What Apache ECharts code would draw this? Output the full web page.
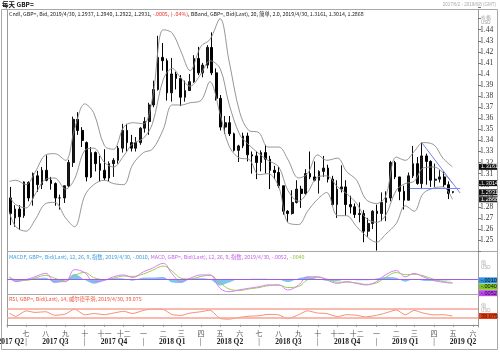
<!DOCTYPE html>
<html><head><meta charset="utf-8">
<script src="https://cdn.jsdelivr.net/npm/echarts/dist/echarts.min.js"></script>
<style>html,body{margin:0;padding:0;background:#fff}#c{width:500px;height:352px}</style>
</head><body><div id="c"></div>
<script>
// ---------- DATA ----------
const weekDates = ['2017-06-05','2017-06-12','2017-06-19','2017-06-26','2017-07-03','2017-07-10','2017-07-17','2017-07-24','2017-07-31','2017-08-07','2017-08-14','2017-08-21','2017-08-28','2017-09-04','2017-09-11','2017-09-18','2017-09-25','2017-10-02','2017-10-09','2017-10-16','2017-10-23','2017-10-30','2017-11-06','2017-11-13','2017-11-20','2017-11-27','2017-12-04','2017-12-11','2017-12-18','2017-12-25',
'2018-01-01','2018-01-08','2018-01-15','2018-01-22','2018-01-29','2018-02-05','2018-02-12','2018-02-19','2018-02-26','2018-03-05','2018-03-12','2018-03-19','2018-03-26','2018-04-02','2018-04-09','2018-04-16','2018-04-23','2018-04-30','2018-05-07','2018-05-14','2018-05-21','2018-05-28','2018-06-04','2018-06-11','2018-06-18','2018-06-25','2018-07-02','2018-07-09','2018-07-16','2018-07-23','2018-07-30','2018-08-06','2018-08-13','2018-08-20','2018-08-27','2018-09-03','2018-09-10','2018-09-17','2018-09-24','2018-10-01','2018-10-08','2018-10-15','2018-10-22','2018-10-29','2018-11-05','2018-11-12','2018-11-19','2018-11-26','2018-12-03','2018-12-10','2018-12-17','2018-12-24','2018-12-31',
'2019-01-07','2019-01-14','2019-01-21','2019-01-28','2019-02-04','2019-02-11','2019-02-18','2019-02-25','2019-03-04','2019-03-11','2019-03-18','2019-03-25','2019-04-01','2019-04-08','2019-04-15','2019-04-22','2019-04-29'];
const openPx = [1.2880,1.2700,1.2780,1.2720,1.3020,1.2880,1.3080,1.3000,1.3130,1.3040,1.3010,1.2880,1.2880,1.2990,1.3200,1.3590,1.3490,1.3380,1.3070,1.3290,1.3190,1.3130,1.3060,1.3190,1.3220,1.3330,1.3490,1.3380,1.3330,1.3380,
1.3510,1.3570,1.3720,1.3860,1.4150,1.4120,1.3830,1.4000,1.3960,1.3790,1.3850,1.3930,1.4140,1.4010,1.4080,1.4240,1.4010,1.3780,1.3520,1.3560,1.3460,1.3310,1.3350,1.3440,1.3270,1.3260,1.3200,1.3290,1.3230,1.3130,1.3110,1.2990,1.2760,1.2740,1.2840,1.2960,1.2920,1.3100,1.3070,1.3040,1.3120,1.3150,1.3050,1.2820,1.2960,1.2980,1.2820,1.2800,1.2730,1.2740,1.2580,1.2650,1.2760,
1.2740,1.2840,1.2880,1.3200,1.3070,1.2940,1.2860,1.3080,1.3190,1.3010,1.3260,1.3210,1.3040,1.3050,1.3070,1.3000,1.2937];
const closePx = [1.2740,1.2780,1.2710,1.3025,1.2880,1.3100,1.3000,1.3130,1.3040,1.3010,1.2880,1.2880,1.2990,1.3200,1.3590,1.3490,1.3400,1.3070,1.3290,1.3190,1.3130,1.3060,1.3190,1.3220,1.3330,1.3490,1.3380,1.3330,1.3380,1.3510,
1.3570,1.3720,1.3860,1.4150,1.4120,1.3830,1.4000,1.3960,1.3790,1.3850,1.3930,1.4140,1.4010,1.4080,1.4240,1.4010,1.3780,1.3520,1.3560,1.3460,1.3310,1.3350,1.3440,1.3270,1.3260,1.3200,1.3290,1.3230,1.3130,1.3110,1.2990,1.2760,1.2740,1.2840,1.2960,1.2920,1.3100,1.3070,1.3040,1.3120,1.3150,1.3050,1.2820,1.2960,1.2980,1.2820,1.2800,1.2730,1.2740,1.2580,1.2650,1.2760,1.2740,
1.2840,1.2880,1.3200,1.3070,1.2940,1.2860,1.3080,1.3190,1.3010,1.3260,1.3210,1.3040,1.3050,1.3070,1.3000,1.2920,1.2931];
const lowPx = [1.2635,1.2620,1.2590,1.2700,1.2850,1.2810,1.2935,1.2960,1.3030,1.2955,1.2810,1.2775,1.2835,1.2980,1.3160,1.3450,1.3340,1.3030,1.3060,1.3120,1.3030,1.3040,1.3030,1.3070,1.3190,1.3290,1.3300,1.3300,1.3300,1.3360,
1.3470,1.3450,1.3700,1.3850,1.4030,1.3760,1.3750,1.3860,1.3710,1.3750,1.3850,1.3920,1.3990,1.3970,1.4050,1.3990,1.3760,1.3490,1.3460,1.3440,1.3300,1.3205,1.3330,1.3210,1.3100,1.3050,1.3120,1.3100,1.2960,1.3050,1.2970,1.2730,1.2660,1.2730,1.2830,1.2790,1.2910,1.3050,1.3030,1.2920,1.3070,1.3020,1.2810,1.2700,1.2930,1.2720,1.2740,1.2700,1.2660,1.2480,1.2530,1.2600,1.2405,
1.2670,1.2670,1.2850,1.3050,1.2860,1.2775,1.2860,1.3060,1.3000,1.2960,1.3000,1.2980,1.2980,1.3020,1.2980,1.2870,1.2922];
const highPx = [1.2980,1.2815,1.2815,1.3030,1.3030,1.3110,1.3125,1.3160,1.3265,1.3070,1.3020,1.2910,1.2990,1.3225,1.3615,1.3655,1.3520,1.3390,1.3340,1.3300,1.3260,1.3320,1.3210,1.3240,1.3350,1.3550,1.3550,1.3450,1.3430,1.3520,
1.3610,1.3740,1.3940,1.4345,1.4280,1.4140,1.4145,1.4020,1.3990,1.3940,1.4000,1.4170,1.4245,1.4100,1.4260,1.4376,1.4050,1.3810,1.3620,1.3620,1.3470,1.3360,1.3470,1.3470,1.3300,1.3300,1.3310,1.3360,1.3260,1.3170,1.3160,1.2990,1.2770,1.2950,1.3040,1.2990,1.3140,1.3300,1.3210,1.3130,1.3260,1.3180,1.3080,1.3040,1.3175,1.3040,1.2900,1.2830,1.2840,1.2770,1.2700,1.2770,1.2820,
1.2930,1.2940,1.3215,1.3215,1.3070,1.2990,1.3110,1.3350,1.3250,1.3380,1.3280,1.3220,1.3190,1.3130,1.3120,1.3030,1.2940];
const lastChange = -0.0005, lastChangePct = -0.04;

const indDates = ['2017-06-05','2017-06-15','2017-07-01','2017-07-15','2017-08-01','2017-08-15','2017-09-01','2017-09-15','2017-10-01','2017-10-15','2017-11-01','2017-11-15','2017-12-01','2017-12-15',
'2018-01-01','2018-01-15','2018-02-01','2018-02-15','2018-03-01','2018-03-15','2018-04-01','2018-04-15','2018-05-01','2018-05-15','2018-06-01','2018-06-15','2018-07-01','2018-07-15','2018-08-01','2018-08-15','2018-09-01','2018-09-15','2018-10-01','2018-10-15','2018-11-01','2018-11-15','2018-12-01','2018-12-15',
'2019-01-01','2019-01-15','2019-02-01','2019-02-15','2019-03-01','2019-03-15','2019-04-01','2019-04-15','2019-04-30'];
const bbUpper = [1.303,1.304,1.300,1.311,1.327,1.328,1.322,1.350,1.373,1.365,1.335,1.332,1.352,1.356,
1.355,1.378,1.440,1.437,1.420,1.403,1.425,1.431,1.450,1.412,1.365,1.349,1.347,1.334,1.334,1.323,1.306,1.310,1.327,1.322,1.324,1.312,1.304,1.287,
1.283,1.289,1.325,1.322,1.330,1.338,1.336,1.324,1.3161];
const bbMid = [1.289,1.282,1.279,1.291,1.305,1.306,1.296,1.305,1.331,1.333,1.320,1.316,1.326,1.337,
1.342,1.355,1.395,1.405,1.396,1.389,1.400,1.412,1.405,1.373,1.345,1.336,1.328,1.322,1.316,1.295,1.285,1.293,1.307,1.308,1.298,1.292,1.283,1.270,
1.266,1.272,1.295,1.301,1.303,1.315,1.316,1.311,1.3014];
const bbLower = [1.275,1.262,1.258,1.268,1.283,1.284,1.270,1.262,1.290,1.300,1.304,1.301,1.300,1.318,
1.329,1.332,1.350,1.372,1.372,1.374,1.376,1.393,1.364,1.335,1.324,1.323,1.309,1.310,1.298,1.266,1.264,1.276,1.287,1.293,1.272,1.272,1.262,1.254,
1.248,1.255,1.265,1.281,1.276,1.292,1.297,1.298,1.2868];
const macdLine = [0.0042,-0.0028,0.0000,0.0040,0.0088,-0.0028,-0.0028,0.0140,0.0098,-0.0028,-0.0010,0.0040,0.0066,0.0030,
0.0110,0.0160,0.0228,0.0080,-0.0028,0.0020,0.0066,0.0066,-0.0120,-0.0168,-0.0140,-0.0120,-0.0098,-0.0074,-0.0074,-0.0144,-0.0074,0.0040,0.0040,-0.0004,-0.0052,-0.0028,-0.0052,-0.0074,
-0.0028,0.0066,0.0126,0.0040,0.0088,0.0040,-0.0014,-0.0035,-0.0052];
const macdSignal = [0.0030,0.0000,-0.0010,0.0020,0.0060,0.0020,-0.0020,0.0060,0.0100,0.0030,0.0000,0.0020,0.0050,0.0045,
0.0080,0.0130,0.0190,0.0120,0.0020,0.0010,0.0045,0.0060,-0.0040,-0.0130,-0.0150,-0.0130,-0.0110,-0.0085,-0.0075,-0.0110,-0.0095,0.0000,0.0035,0.0010,-0.0035,-0.0035,-0.0045,-0.0065,
-0.0045,0.0030,0.0100,0.0070,0.0075,0.0055,0.0005,-0.0025,-0.0040];
const macdHist = [0.0012,-0.0028,0.0010,0.0020,0.0028,-0.0048,-0.0008,0.0080,-0.0002,-0.0058,-0.0010,0.0020,0.0016,-0.0015,
0.0030,0.0030,0.0038,-0.0040,-0.0048,0.0010,0.0021,0.0006,-0.0080,-0.0038,0.0010,0.0010,0.0012,0.0011,0.0001,-0.0034,0.0021,0.0040,0.0005,-0.0014,-0.0017,0.0007,-0.0007,-0.0009,
0.0017,0.0036,0.0026,-0.0030,0.0013,-0.0015,-0.0019,-0.0010,-0.0010];
const rsiValues = [52,37,62,55,58,42,48,70,44,50,45,52,60,50,
64,70,68,45,42,52,58,65,28,25,33,38,40,46,44,27,45,62,52,50,36,45,42,35,
42,52,66,44,64,52,44,45,39.075];
const rsiLevels = [70, 30];
const trendLines = [[['2019-03-13',1.3379],['2019-05-12',1.2925]],[['2019-02-22',1.2967],['2019-05-12',1.2967]]];
const monthNames = ['一','二','三','四','五','六','七','八','九','十','十一','十二'];
const quarterBounds = ['2017-04-01','2017-07-01','2017-10-01','2018-01-01','2018-04-01','2018-07-01','2018-10-01','2019-01-01','2019-04-01','2019-07-01'];
const quarterLabels = ['2017 Q2','2017 Q3','2017 Q4','2018 Q1','2018 Q2','2018 Q3','2018 Q4','2019 Q1','2019 Q2'];

// ---------- CHART ----------
const DAY = 864e5;
const X_MIN = Date.parse('2017-06-01T06:00:00Z'), X_MAX = Date.parse('2019-06-09T00:00:00Z');
const L = 7, R = 478;
const chart = echarts.init(document.getElementById('c'), null, {renderer: 'canvas', width: 500, height: 352});
const candleData = weekDates.map((d, i) => [Date.parse(d) + 2 * DAY, openPx[i], closePx[i], lowPx[i], highPx[i]]);
const ind = arr => indDates.map((d, i) => [Date.parse(d), arr[i]]);
const xBase = {type: 'time', min: X_MIN, max: X_MAX, axisLine: {show: false}, axisTick: {show: false}, axisLabel: {show: false}, splitLine: {show: false}};
const yBase = {type: 'value', position: 'right', axisLine: {show: false}, axisTick: {show: false}, axisLabel: {show: false}, splitLine: {show: false}};
const bandStyle = {type: 'line', xAxisIndex: 0, yAxisIndex: 0, symbol: 'none', smooth: 0.35, lineStyle: {color: '#8a8a8a', width: 0.9}, silent: true};

const option = {
  animation: false,
  textStyle: {fontFamily: 'Liberation Sans'},
  grid: [
    {left: L, right: 500 - R, top: 7.56, height: 243.54},
    {left: L, right: 500 - R, top: 251, height: 43},
    {left: L, right: 500 - R, top: 294, height: 33}
  ],
  xAxis: [
    Object.assign({}, xBase, {gridIndex: 0}),
    Object.assign({}, xBase, {gridIndex: 1}),
    Object.assign({}, xBase, {gridIndex: 2,
      minInterval: 27 * DAY, maxInterval: 32 * DAY,
      axisLine: {show: true, lineStyle: {color: '#8c8c8c', width: 1}},
      axisTick: {show: true, length: 2, lineStyle: {color: '#8c8c8c'}},
      axisLabel: {show: true, margin: 3, fontSize: 7, color: '#555', fontFamily: 'Noto Sans CJK SC',
        formatter: v => monthNames[new Date(v).getMonth()]}})
  ],
  yAxis: [
    Object.assign({}, yBase, {gridIndex: 0, min: 1.24, max: 1.46, interval: 0.01,
      axisTick: {show: true, length: 3, lineStyle: {color: '#777'}},
      axisLabel: {show: true, margin: 2, fontSize: 7.5, color: '#333', fontFamily: 'Liberation Serif',
        formatter: v => (v > 1.245 && v < 1.445) ? String(+v.toFixed(2)) : ''}}),
    Object.assign({}, yBase, {gridIndex: 1, min: -0.02, max: 0.04}),
    Object.assign({}, yBase, {gridIndex: 2, min: -10, max: 137})
  ],
  series: [
    Object.assign({}, bandStyle, {name: 'upper', data: ind(bbUpper)}),
    Object.assign({}, bandStyle, {name: 'mid', data: ind(bbMid)}),
    Object.assign({}, bandStyle, {name: 'lower', data: ind(bbLower)}),
    {type: 'candlestick', xAxisIndex: 0, yAxisIndex: 0, data: candleData, barWidth: 2.2,
      itemStyle: {color: '#1a1a1a', color0: '#000', borderColor: '#111', borderColor0: '#000', borderWidth: 1},
      markLine: {silent: true, symbol: 'none', label: {show: false},
        lineStyle: {color: '#7385f2', width: 1, type: 'solid'},
        data: trendLines.map(seg => [{coord: [Date.parse(seg[0][0]), seg[0][1]]}, {coord: [Date.parse(seg[1][0]), seg[1][1]]}])}},
    {type: 'line', name: 'hist', xAxisIndex: 1, yAxisIndex: 1, data: ind(macdHist), symbol: 'none', smooth: 0.3,
      lineStyle: {width: 0}, areaStyle: {color: '#6ec0ef', opacity: 0.9},
      markLine: {silent: true, symbol: 'none', label: {show: false}, lineStyle: {color: '#a35ce8', width: 1.2, type: 'solid'}, data: [{yAxis: 0}]}},
    {type: 'line', name: 'signal', xAxisIndex: 1, yAxisIndex: 1, data: ind(macdSignal), symbol: 'none', smooth: 0.4,
      lineStyle: {color: '#96cf4a', width: 1}},
    {type: 'line', name: 'macd', xAxisIndex: 1, yAxisIndex: 1, data: ind(macdLine), symbol: 'none', smooth: 0.4,
      lineStyle: {color: '#d77ef2', width: 1}},
    {type: 'line', name: 'rsi', xAxisIndex: 2, yAxisIndex: 2, data: ind(rsiValues), symbol: 'none', smooth: 0.2,
      lineStyle: {color: '#f2714f', width: 0.8},
      markLine: {silent: true, symbol: 'none', label: {show: false}, lineStyle: {color: '#f7a596', width: 1.6, type: 'solid'},
        data: rsiLevels.map(v => ({yAxis: v}))}}
  ]
};
chart.setOption(option);

// ---------- decorations: frames, legends, value boxes, quarter labels ----------
const px = t => chart.convertToPixel({xAxisIndex: 2}, Date.parse(t));
const py = (i, v) => chart.convertToPixel({yAxisIndex: i}, v);
const fmt4 = v => (v < 0 ? '-' : '') + Math.abs(v).toFixed(4).replace(/^0/, '');
const last = a => a[a.length - 1];
const g = [];
const line = (x1, y1, x2, y2, c, w) => g.push({type: 'line', silent: true, shape: {x1, y1, x2, y2}, style: {stroke: c || '#a0a0a0', lineWidth: w || 1}});
const text = (x, y, s, o) => g.push({type: 'text', silent: true, x, y, style: Object.assign({text: s, fill: '#333', fontSize: 6, fontFamily: 'Liberation Sans', verticalAlign: 'middle'}, o || {})});

// frames
g.push({type: 'rect', silent: true, shape: {x: 1.5, y: 9.5, width: 496, height: 340}, style: {fill: 'none', stroke: '#a8a8a8', lineWidth: 1}});
line(L + 0.5, 9.5, L + 0.5, 327.5, '#9a9a9a');
line(R + 0.5, 9.5, R + 0.5, 327.5, '#9a9a9a');
line(L, 251.5, 497, 251.5, '#a8a8a8');
line(L, 294.5, 497, 294.5, '#a8a8a8');

// title & range
text(2, 4.5, '每天 GBP=', {fontSize: 6.5, fontWeight: 'bold', fill: '#111', fontFamily: 'Noto Sans CJK SC'});
text(496, 4.5, '2017/6/2 - 2019/6/8 (GMT)', {fontSize: 4.5, fill: '#aaa', align: 'right'});
text(481, 17, '价格', {fontSize: 5, fill: '#999', fontFamily: 'Noto Sans CJK SC'});
text(481, 23, 'USD', {fontSize: 4.5, fill: '#999'});
text(481, 262, '值', {fontSize: 5, fill: '#aaa', fontFamily: 'Noto Sans CJK SC'});
text(481, 267.5, 'USD', {fontSize: 4.5, fill: '#aaa'});
text(481, 305, '值', {fontSize: 5, fill: '#aaa', fontFamily: 'Noto Sans CJK SC'});
text(481, 310.5, 'USD', {fontSize: 4.5, fill: '#aaa'});

// legends
const d = '2019/4/30';
const candleLeg = 'Cndl, GBP=, Bid, ' + d + ', ' + last(openPx).toFixed(4) + ', ' + last(highPx).toFixed(4) + ', ' + last(lowPx).toFixed(4) + ', ' + last(closePx).toFixed(4) + ', ';
const chgLeg = fmt4(lastChange) + ', (' + (lastChangePct < 0 ? '-' : '') + Math.abs(lastChangePct).toFixed(2).replace(/^0/, '') + '%)';
const bbLeg = ', BBand, GBP=, Bid(Last), 20, 简单, 2.0, ' + d + ', ' + last(bbUpper).toFixed(4) + ', ' + last(bbMid).toFixed(4) + ', ' + last(bbLower).toFixed(4);
g.push({type: 'text', silent: true, x: 9, y: 13.5, style: {text: '{a|' + candleLeg + '}{r|' + chgLeg + '}{a|' + bbLeg + '}', verticalAlign: 'middle',
  rich: {a: {fill: '#222', fontSize: 5.3, fontFamily: 'Noto Sans CJK SC'}, r: {fill: '#e8322a', fontSize: 5.3, fontFamily: 'Noto Sans CJK SC'}}}});
const histLeg = 'MACDF, GBP=, Bid(Last), 12, 26, 9, 指数, ' + d + ', ' + fmt4(last(macdHist)) + ', ';
const macdLeg = 'MACD, GBP=, Bid(Last), 12, 26, 9, 指数, ' + d + ', ' + fmt4(last(macdLine)) + ', ';
const sigLeg = fmt4(last(macdSignal));
g.push({type: 'text', silent: true, x: 9, y: 256.5, style: {text: '{b|' + histLeg + '}{m|' + macdLeg + '}{s|' + sigLeg + '}', verticalAlign: 'middle',
  rich: {b: {fill: '#3d9fe0', fontSize: 5.3, fontFamily: 'Noto Sans CJK SC'}, m: {fill: '#c264e6', fontSize: 5.3, fontFamily: 'Noto Sans CJK SC'}, s: {fill: '#86c23a', fontSize: 5.3, fontFamily: 'Noto Sans CJK SC'}}}});
text(9, 298.5, 'RSI, GBP=, Bid(Last), 14, 威尔德平滑, ' + d + ', ' + last(rsiValues).toFixed(3), {fill: '#f0553a', fontSize: 5.3, fontFamily: 'Noto Sans CJK SC'});

// value boxes on the right axis
function boxes(list, yi) {
  const items = list.map(o => Object.assign({y: py(yi, o.v)}, o)).sort((a, b) => a.y - b.y);
  for (let i = 1; i < items.length; i++) if (items[i].y - items[i - 1].y < 6.4) items[i].y = items[i - 1].y + 6.4;
  items.forEach(o => {
    g.push({type: 'rect', silent: true, shape: {x: R + 1, y: o.y - 3, width: 497 - R - 1, height: 6}, style: {fill: o.bg}});
    text(R + 3, o.y, o.label, {fill: o.fg, fontSize: 5.6});
  });
}
boxes([
  {v: last(bbUpper), label: last(bbUpper).toFixed(4), bg: '#111', fg: '#fff'},
  {v: last(bbMid), label: last(bbMid).toFixed(4), bg: '#111', fg: '#fff'},
  {v: last(closePx), label: last(closePx).toFixed(4), bg: '#111', fg: '#fff'},
  {v: last(bbLower), label: last(bbLower).toFixed(4), bg: '#222', fg: '#fff'}
], 0);
boxes([
  {v: last(macdHist), label: fmt4(last(macdHist)), bg: '#2b93e6', fg: '#111'},
  {v: last(macdSignal), label: fmt4(last(macdSignal)), bg: '#7fc624', fg: '#111'},
  {v: last(macdLine), label: fmt4(last(macdLine)), bg: '#c345f0', fg: '#111'}
], 1);
boxes([{v: last(rsiValues), label: last(rsiValues).toFixed(3), bg: '#ee3a12', fg: '#220'}], 2);

// quarter labels
const qStyle = {fontSize: 7.5, fill: '#222', fontFamily: 'Liberation Serif', fontWeight: 'bold'};
for (let i = 0; i < quarterLabels.length; i++) {
  const a = px(quarterBounds[i]), b = px(quarterBounds[i + 1]);
  if (i === 0) text(b - 2, 342, quarterLabels[i], Object.assign({align: 'right'}, qStyle));
  else text((a + b) / 2, 342, quarterLabels[i], Object.assign({align: 'center'}, qStyle));
  if (i > 0) text(a, 342, '|', {align: 'center', fontSize: 8, fill: '#333', fontFamily: 'Liberation Serif'});
}
chart.setOption({graphic: g});
</script>
</body></html>
